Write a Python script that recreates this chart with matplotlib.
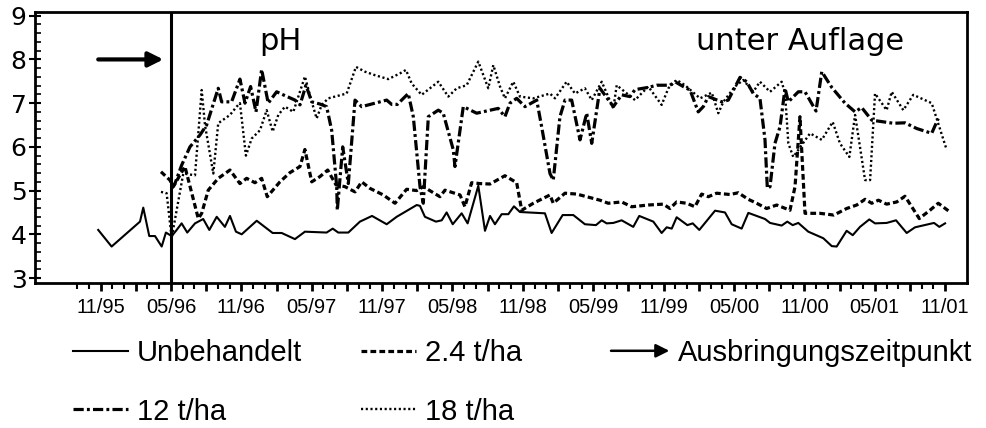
import numpy as np
import matplotlib
matplotlib.use("Agg")
import matplotlib.pyplot as plt
import matplotlib.patches as mpatches
from matplotlib.legend_handler import HandlerPatch
from matplotlib.lines import Line2D
from matplotlib.ticker import FixedLocator, MultipleLocator

# x values: months since Jan 1995 (0 = 01/95, 10 = 11/95, 16 = 05/96 ...)
tick_months = [10, 16, 22, 28, 34, 40, 46, 52, 58, 64, 70, 76, 82]
tick_labels = ["11/95", "05/96", "11/96", "05/97", "11/97", "05/98", "11/98",
               "05/99", "11/99", "05/00", "11/00", "05/01", "11/01"]
application_month = 16

months_unbeh = [9.8, 10.94, 13.36, 13.64, 14.15, 14.64, 15.21, 15.57, 16.06, 16.43, 16.91, 17.39,
                18.05, 18.75, 19.27, 19.90, 20.60, 21.03, 21.54, 22.03, 23.31, 24.67, 25.44, 26.57,
                27.42, 29.27, 29.79, 30.26, 31.12, 32.11, 33.14, 34.39, 35.24, 36.95, 37.23, 37.65,
                38.59, 39.08, 39.50, 40.02, 40.78, 41.29, 42.20, 42.77, 43.20, 43.62, 44.19, 44.76,
                45.24, 45.75, 47.88, 48.45, 49.39, 50.30, 51.29, 52.23, 52.72, 53.14, 53.71, 54.42,
                55.41, 55.92, 57.12, 57.83, 58.26, 58.69, 59.11, 60.02, 60.48, 61.04, 62.38, 63.23,
                63.80, 64.65, 65.22, 66.64, 67.07, 68.06, 68.54, 69.00, 69.48, 70.33, 71.61, 72.33,
                72.75, 73.60, 74.12, 74.74, 75.53, 76.02, 77.01, 77.81, 78.72, 79.43, 81.05, 81.50,
                81.99]
ph_unbeh = [4.10, 3.72, 4.29, 4.61, 3.96, 3.96, 3.72, 4.04, 3.96, 4.08, 4.25, 4.04,
            4.25, 4.35, 4.10, 4.40, 4.17, 4.42, 4.06, 4.00, 4.31, 4.03, 4.03, 3.89,
            4.06, 4.04, 4.13, 4.04, 4.04, 4.29, 4.42, 4.23, 4.40, 4.67, 4.65, 4.40,
            4.29, 4.32, 4.50, 4.23, 4.48, 4.25, 5.11, 4.08, 4.42, 4.23, 4.46, 4.46,
            4.64, 4.51, 4.48, 4.03, 4.44, 4.44, 4.23, 4.21, 4.32, 4.25, 4.26, 4.32,
            4.17, 4.42, 4.29, 4.03, 4.16, 4.13, 4.39, 4.21, 4.25, 4.10, 4.54, 4.50,
            4.23, 4.13, 4.49, 4.35, 4.26, 4.20, 4.29, 4.21, 4.26, 4.06, 3.91, 3.73,
            3.72, 4.08, 3.98, 4.17, 4.34, 4.25, 4.26, 4.32, 4.03, 4.16, 4.26, 4.17,
            4.25]

months_24 = [15.15, 15.91, 16.20, 17.19, 18.33, 18.62, 19.18, 20.03, 21.03, 21.88, 22.45, 23.16,
             23.73, 24.21, 25.29, 26.14, 27.00, 27.42, 28.00, 28.70, 29.36, 30.07, 30.83, 31.69,
             32.26, 32.97, 34.10, 35.10, 36.09, 36.95, 37.51, 38.93, 39.36, 40.64, 41.06, 41.63,
             42.34, 43.20, 44.47, 45.47, 45.90, 46.89, 48.31, 48.59, 49.59, 50.59, 51.44, 52.57,
             53.28, 54.42, 55.28, 56.69, 57.97, 58.54, 59.11, 59.96, 60.67, 61.24, 61.81, 62.52,
             63.66, 64.36, 65.22, 65.93, 66.78, 67.64, 68.77, 69.20, 69.62, 70.05, 71.32, 72.51,
             73.60, 74.46, 75.17, 75.74, 76.31, 77.01, 77.87, 78.57, 79.15, 79.79, 80.70, 81.41,
             82.41]
ph_24 = [5.43, 5.24, 5.09, 5.55, 4.36, 4.48, 5.01, 5.28, 5.47, 5.16, 5.28, 5.18,
         5.28, 4.86, 5.20, 5.41, 5.55, 5.94, 5.20, 5.32, 5.47, 5.13, 5.09, 4.97,
         5.20, 5.05, 4.90, 4.71, 5.03, 5.00, 5.09, 4.86, 5.01, 4.90, 4.63, 5.18,
         5.16, 5.15, 5.34, 5.18, 4.55, 4.71, 4.90, 4.71, 4.94, 4.92, 4.86, 4.78,
         4.71, 4.74, 4.63, 4.67, 4.69, 4.59, 4.74, 4.71, 4.63, 4.92, 4.86, 4.94,
         4.91, 4.95, 4.80, 4.71, 4.59, 4.67, 4.55, 5.09, 6.69, 4.48, 4.48, 4.44,
         4.59, 4.67, 4.80, 4.71, 4.78, 4.69, 4.74, 4.87, 4.63, 4.36, 4.55, 4.71,
         4.51]

months_12 = [16.06, 16.34, 16.91, 17.62, 18.47, 19.04, 20.03, 20.32, 21.17, 21.88, 22.31, 22.79,
             23.25, 23.73, 24.29, 25.01, 25.57, 26.57, 27.00, 27.51, 28.00, 28.70, 29.27, 29.70,
             30.13, 30.18, 30.64, 31.12, 31.69, 32.26, 34.39, 34.82, 35.29, 36.23, 36.66, 37.23,
             37.51, 37.94, 38.79, 39.21, 40.07, 40.21, 40.92, 42.06, 43.90, 44.47, 44.90, 45.47,
             46.18, 47.18, 47.60, 48.31, 48.59, 49.16, 49.59, 50.16, 50.87, 51.44, 51.87, 52.57,
             53.71, 54.42, 55.13, 55.56, 56.69, 57.41, 58.54, 58.97, 59.67, 60.25, 60.95, 61.38,
             61.81, 62.38, 62.95, 63.51, 64.51, 65.08, 65.64, 66.21, 66.64, 66.84, 67.07, 67.49,
             67.92, 68.35, 68.63, 69.48, 70.05, 70.99, 71.48, 72.33, 73.46, 74.32, 74.88, 75.74,
             77.58, 78.57, 79.57, 80.85, 81.41]
ph_12 = [5.05, 5.16, 5.58, 6.00, 6.27, 6.50, 7.34, 7.03, 7.03, 7.55, 7.00, 7.38,
         6.80, 7.77, 7.00, 7.26, 7.19, 7.07, 6.96, 7.41, 7.03, 6.98, 6.92, 6.38,
         5.09, 4.55, 6.00, 5.16, 7.07, 6.92, 7.07, 6.97, 6.97, 7.22, 6.69, 5.09,
         4.71, 6.69, 6.84, 6.77, 5.93, 5.55, 6.92, 6.77, 6.88, 6.69, 7.00, 7.11,
         6.92, 7.07, 6.46, 5.39, 5.24, 6.69, 7.07, 7.07, 6.16, 6.77, 6.08, 7.34,
         6.92, 7.19, 7.15, 7.31, 7.36, 7.41, 7.41, 7.49, 7.38, 7.30, 6.80, 6.92,
         7.15, 7.09, 7.03, 7.07, 7.59, 7.49, 7.22, 7.11, 6.16, 5.05, 5.09, 6.08,
         6.46, 7.34, 7.03, 7.26, 7.26, 6.82, 7.72, 7.36, 7.00, 6.80, 6.90, 6.61,
         6.54, 6.55, 6.42, 6.31, 6.65]

months_18 = [15.15, 15.63, 16.06, 17.05, 18.05, 18.62, 18.90, 19.61, 20.03, 21.03, 21.60, 21.88,
             22.39, 22.88, 23.59, 24.16, 24.67, 25.15, 25.72, 26.43, 27.42, 28.00, 28.42, 28.85,
             29.41, 29.98, 30.98, 31.77, 32.54, 33.39, 34.53, 35.52, 36.03, 36.52, 37.37, 38.79,
             39.64, 40.36, 41.21, 42.20, 43.05, 43.48, 44.05, 44.47, 45.18, 45.75, 46.89, 48.31,
             48.74, 49.73, 50.44, 51.29, 51.87, 52.72, 53.71, 54.00, 55.56, 56.69, 57.83, 58.40,
             59.11, 59.82, 61.10, 62.10, 62.66, 63.09, 64.08, 64.79, 65.64, 66.21, 67.07, 68.06,
             68.35, 68.63, 69.05, 69.48, 70.48, 71.48, 72.41, 73.03, 73.83, 74.32, 75.17, 75.60,
             76.02, 77.01, 77.44, 78.43, 79.28, 80.85, 81.27, 82.13]
ph_18 = [4.97, 4.94, 3.92, 5.39, 5.35, 7.30, 6.50, 5.39, 6.54, 6.73, 6.92, 7.00,
         5.80, 6.19, 6.38, 6.84, 6.35, 6.73, 6.92, 6.80, 7.61, 7.03, 6.65, 6.96,
         7.11, 7.15, 7.22, 7.83, 7.72, 7.64, 7.55, 7.68, 7.76, 7.45, 7.19, 7.49,
         7.15, 7.34, 7.41, 7.95, 7.34, 7.87, 7.38, 7.11, 7.49, 7.15, 7.11, 7.22,
         7.11, 7.49, 7.22, 7.34, 7.07, 7.49, 6.88, 7.41, 7.07, 7.38, 6.96, 7.34,
         7.53, 7.41, 7.11, 7.24, 6.77, 7.03, 7.38, 7.53, 7.26, 7.49, 7.26, 7.49,
         7.22, 6.08, 5.77, 5.93, 6.31, 6.16, 6.57, 6.08, 5.77, 6.73, 5.24, 5.24,
         7.22, 6.84, 7.26, 6.84, 7.19, 7.00, 6.65, 5.93]

series_labels = ["Unbehandelt", "2.4 t/ha", "12 t/ha", "18 t/ha"]
arrow_label = "Ausbringungszeitpunkt"

plt.rcParams["font.family"] = ["Liberation Sans", "DejaVu Sans"]

fig = plt.figure(figsize=(9.87, 4.28), dpi=100)
ax = fig.add_axes([35 / 987, 1 - 283 / 428, 932 / 987, 271 / 428])

st_unb = dict(color="black", lw=1.5, linestyle="-")
st_24 = dict(color="black", lw=2.3, linestyle=(0, (1.8, 1.0)))
st_12 = dict(color="black", lw=2.3, linestyle=(0, (3.2, 1.0, 0.9, 1.0)))
st_18 = dict(color="black", lw=1.7, linestyle=(0, (0.9, 1.1)))

ax.plot(months_unbeh, ph_unbeh, **st_unb)
ax.plot(months_24, ph_24, **st_24)
ax.plot(months_12, ph_12, **st_12)
ax.plot(months_18, ph_18, **st_18)

ax.axvline(application_month, color="black", lw=2.2)
ax.annotate("", xy=(15.35, 8.0), xytext=(9.8, 8.0),
            arrowprops=dict(arrowstyle="-|>", lw=3, mutation_scale=22,
                            color="black", shrinkA=0, shrinkB=0))

ax.text(25.3, 8.215, "pH", fontsize=22, ha="center", va="baseline",
        family="DejaVu Sans")
ax.text(69.62, 8.215, "unter Auflage", fontsize=22, ha="center", va="baseline",
        family="DejaVu Sans")

ax.set_xlim(4.41, 83.86)
ax.set_ylim(2.886, 9.085)

major_x = np.arange(tick_months[0], tick_months[-1] + 1, 3)
lab_map = dict(zip(tick_months, tick_labels))
ax.set_xticks(major_x, labels=[lab_map.get(int(m), "") for m in major_x])
ax.xaxis.set_minor_locator(FixedLocator(np.arange(8, 83, 1)))
ax.tick_params(axis="x", which="major", direction="out", length=6, width=2,
               labelsize=14.5, pad=5)
ax.tick_params(axis="x", which="minor", direction="out", length=4, width=1.5)

ax.set_yticks(range(3, 10))
ax.yaxis.set_minor_locator(MultipleLocator(0.2))
ax.tick_params(axis="y", which="major", direction="inout", length=8, width=1.5,
               labelsize=18, pad=2)
ax.tick_params(axis="y", which="minor", direction="in", length=4, width=1.2)
for lab in ax.get_yticklabels():
    lab.set_family("DejaVu Sans")

for sp in ax.spines.values():
    sp.set_linewidth(2)
    sp.set_color("black")


class HandlerArrow(HandlerPatch):
    def create_artists(self, legend, orig_handle, xdescent, ydescent,
                       width, height, fontsize, trans):
        y = height / 2 - ydescent
        p = mpatches.FancyArrowPatch((-xdescent, y), (-xdescent + width, y),
                                     arrowstyle="-|>", mutation_scale=20,
                                     lw=1.8, color="black", shrinkA=0, shrinkB=0)
        p.set_transform(trans)
        return [p]


h_unb = Line2D([], [], **st_unb)
h_24 = Line2D([], [], **st_24)
h_12 = Line2D([], [], **st_12)
h_18 = Line2D([], [], **st_18)
h_arr = mpatches.FancyArrowPatch((0, 0), (1, 0), arrowstyle="-|>")

leg_top = 1 - 339 / 428
handles = [h_unb, h_12, h_24, h_18]
labels = [series_labels[0], series_labels[2], series_labels[1], series_labels[3]]
leg1 = fig.legend(handles, labels, ncol=2, loc="upper left",
                  bbox_to_anchor=(73 / 987, leg_top), frameon=False,
                  fontsize=21, handlelength=1.9, handletextpad=0.3, columnspacing=2.0,
                  labelspacing=1.05, borderpad=0, borderaxespad=0)
fig.legend([h_arr], [arrow_label], loc="upper left",
           bbox_to_anchor=(611 / 987, leg_top), frameon=False,
           fontsize=21, handlelength=2.0, handletextpad=0.3,
           borderpad=0, borderaxespad=0,
           handler_map={mpatches.FancyArrowPatch: HandlerArrow()})

fig.savefig("out.png", dpi=100)
